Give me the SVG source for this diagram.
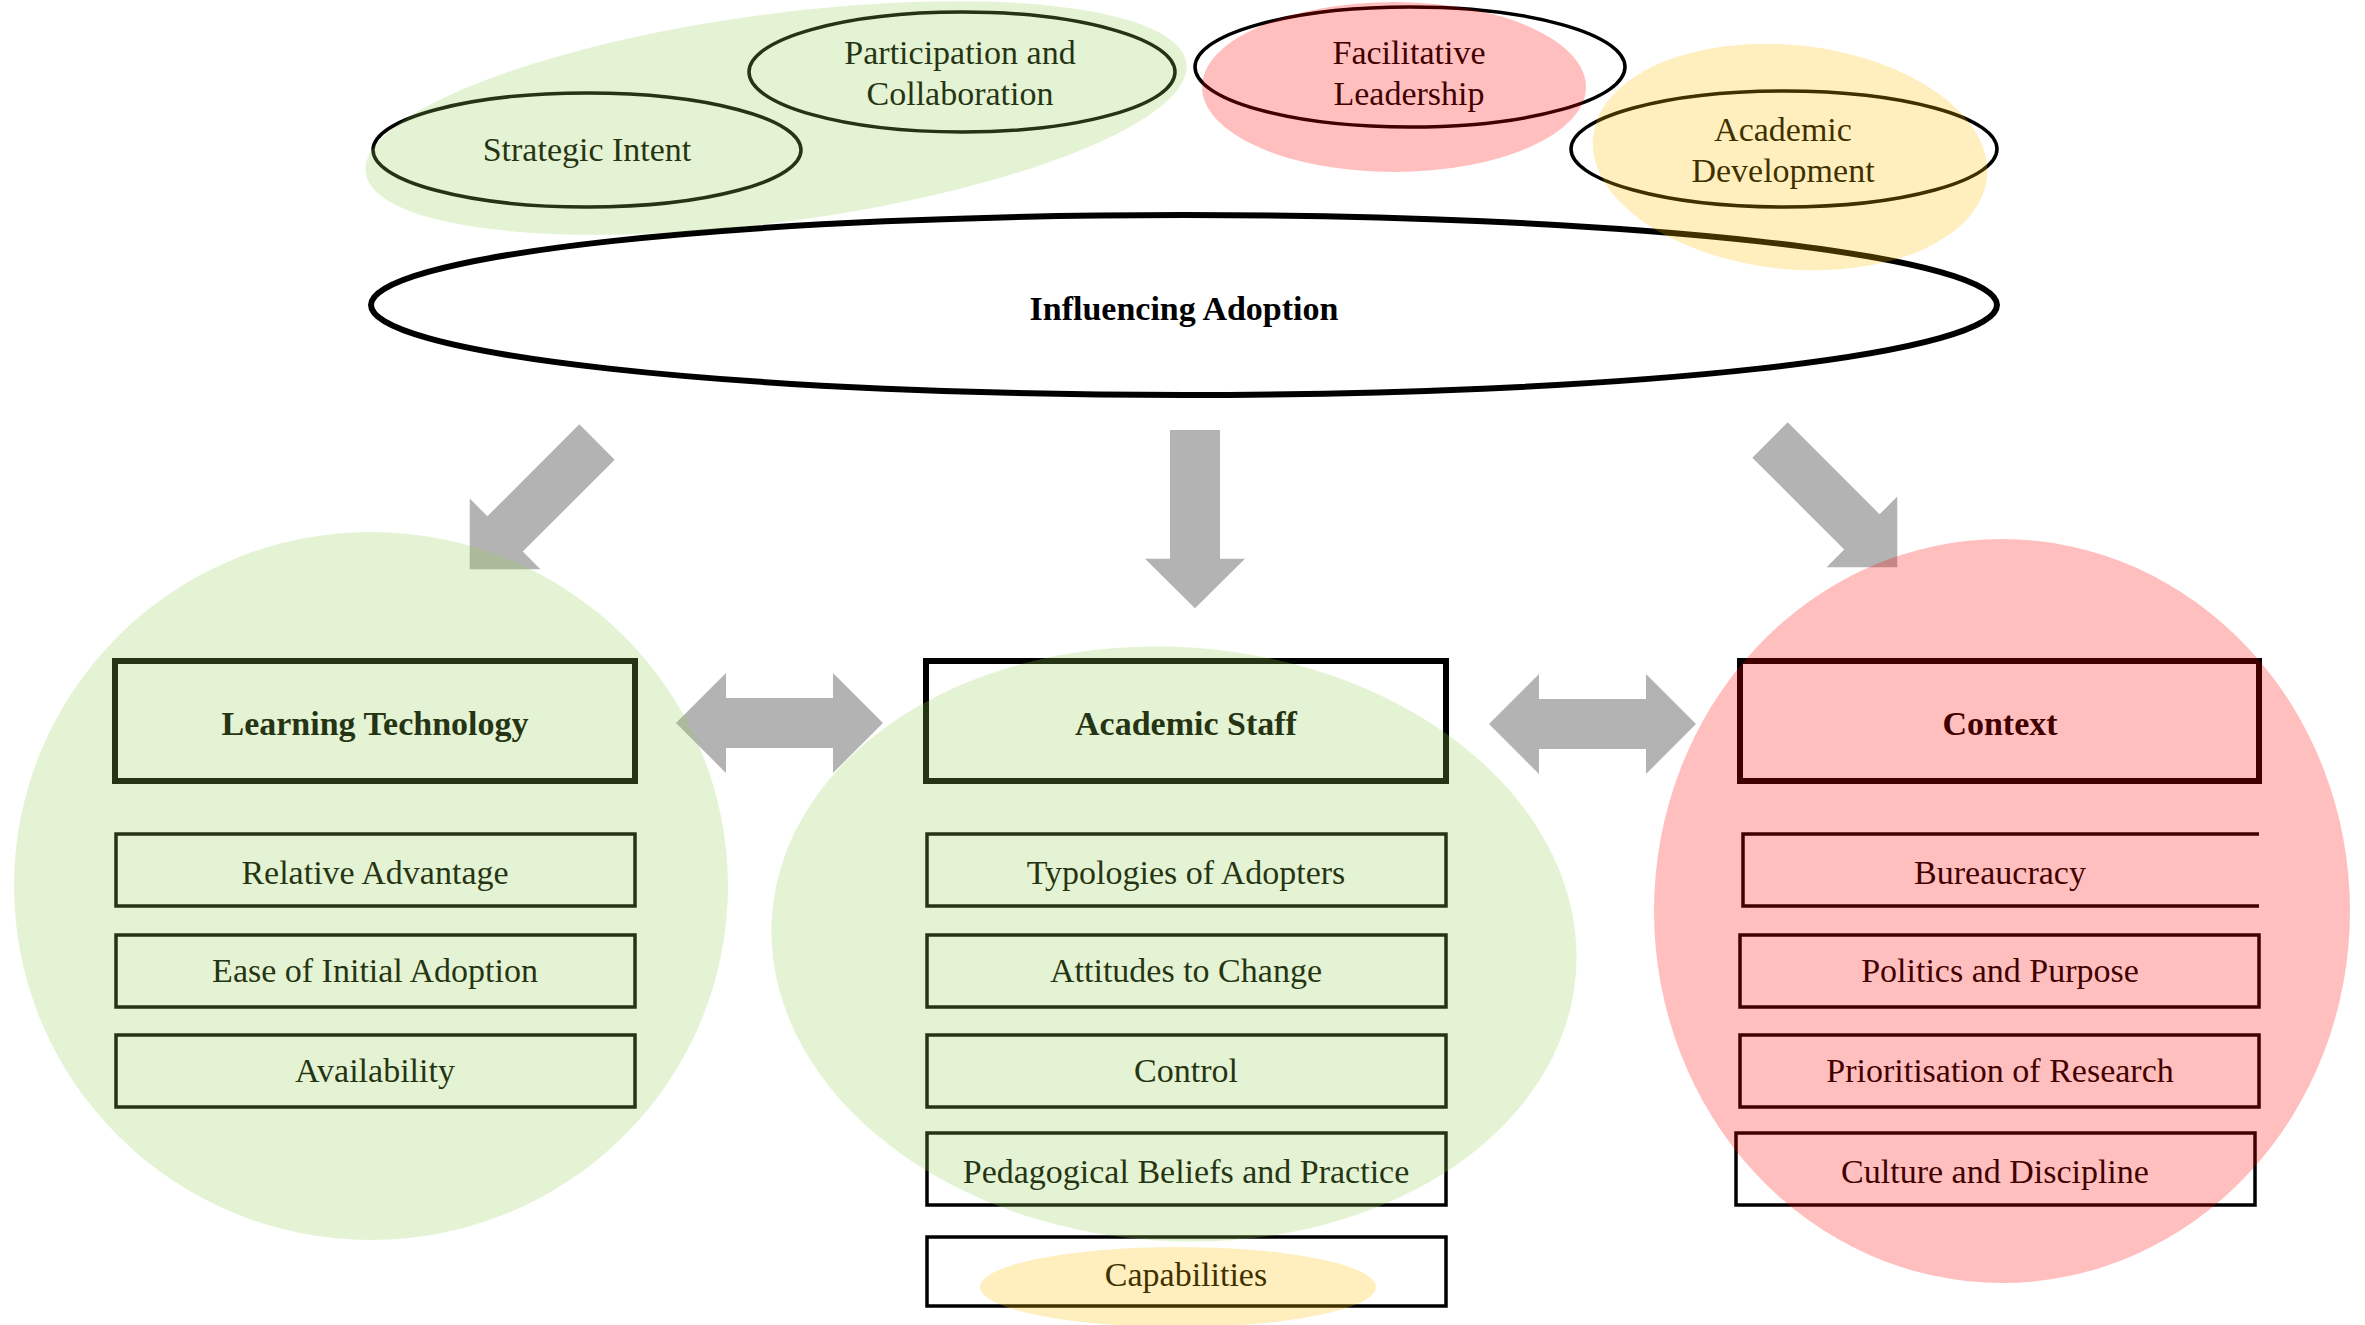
<svg xmlns="http://www.w3.org/2000/svg" width="2365" height="1325" viewBox="0 0 2365 1325">
<style>
text{font-family:"Liberation Serif","Times New Roman",serif;font-size:34px;text-anchor:middle;fill:#000}
.b{font-weight:bold}
.hdr{fill:none;stroke:#000;stroke-width:6}
.item{fill:none;stroke:#000;stroke-width:3.5}
.oval{fill:none;stroke:#000;stroke-width:3.5}
.arr{fill:#b3b3b3}
.g{fill:#92d050;fill-opacity:0.25}
.r{fill:#ff0000;fill-opacity:0.25}
.y{fill:#ffc000;fill-opacity:0.25}
</style>
<defs>
<path id="arrow1" d="M0,-25 H130 V-50 L180,0 L130,50 V25 H0 Z"/>
<path id="arrow2" d="M0,0 L50,-50 V-25 H157 V-50 L207,0 L157,50 V25 H50 V50 Z"/>
</defs>
<rect width="2365" height="1325" fill="#fff"/>

<g id="influencing-adoption">
<ellipse cx="1184" cy="305" rx="813" ry="90" fill="#fff" stroke="#000" stroke-width="6"/>
<text class="b" x="1184" y="320">Influencing Adoption</text>
</g>
<g id="strategic-intent">
<ellipse class="oval" cx="587" cy="150" rx="214" ry="57"/>
<text x="587" y="161">Strategic Intent</text>
</g>
<g id="participation">
<ellipse class="oval" cx="962" cy="72" rx="213" ry="60"/>
<text x="960" y="64">Participation and</text>
<text x="960" y="105">Collaboration</text>
</g>
<g id="facilitative-leadership">
<ellipse class="oval" cx="1410" cy="67" rx="215" ry="60"/>
<text x="1409" y="64">Facilitative</text>
<text x="1409" y="105">Leadership</text>
</g>
<g id="academic-development">
<ellipse class="oval" cx="1784" cy="149" rx="213" ry="58"/>
<text x="1783" y="141">Academic</text>
<text x="1783" y="182">Development</text>
</g>

<g id="connectors">
<use href="#arrow1" class="arr" transform="translate(597,442) rotate(135)"/>
<use href="#arrow1" class="arr" transform="translate(1195,430) rotate(90) scale(0.99,1)"/>
<use href="#arrow1" class="arr" transform="translate(1770,440) rotate(45)"/>
<use href="#arrow2" class="arr" transform="translate(676,723)"/>
<use href="#arrow2" class="arr" transform="translate(1489,724)"/>
</g>

<g id="learning-technology">
<rect class="hdr" x="115" y="661" width="520" height="120"/>
<text class="b" x="375" y="735">Learning Technology</text>
<rect class="item" x="116" y="834" width="519" height="72"/>
<text x="375" y="884">Relative Advantage</text>
<rect class="item" x="116" y="935" width="519" height="72"/>
<text x="375" y="982">Ease of Initial Adoption</text>
<rect class="item" x="116" y="1035" width="519" height="72"/>
<text x="375" y="1082">Availability</text>
</g>

<g id="academic-staff">
<rect class="hdr" x="926" y="661" width="520" height="120"/>
<text class="b" x="1186" y="735">Academic Staff</text>
<rect class="item" x="927" y="834" width="519" height="72"/>
<text x="1186" y="884">Typologies of Adopters</text>
<rect class="item" x="927" y="935" width="519" height="72"/>
<text x="1186" y="982">Attitudes to Change</text>
<rect class="item" x="927" y="1035" width="519" height="72"/>
<text x="1186" y="1082">Control</text>
<rect class="item" x="927" y="1133" width="519" height="72"/>
<text x="1186" y="1183">Pedagogical Beliefs and Practice</text>
<rect class="item" x="927" y="1237" width="519" height="69"/>
<text x="1186" y="1286">Capabilities</text>
</g>

<g id="context">
<rect class="hdr" x="1740" y="661" width="519" height="120"/>
<text class="b" x="2000" y="735">Context</text>
<path class="item" d="M2259,834 H1743 V906 H2259"/>
<text x="2000" y="884">Bureaucracy</text>
<rect class="item" x="1740" y="935" width="519" height="72"/>
<text x="2000" y="982">Politics and Purpose</text>
<rect class="item" x="1740" y="1035" width="519" height="72"/>
<text x="2000" y="1082">Prioritisation of Research</text>
<rect class="item" x="1736" y="1133" width="519" height="72"/>
<text x="1995" y="1183">Culture and Discipline</text>
</g>

<g id="overlays">
<ellipse class="g" cx="776" cy="118" rx="414" ry="104" transform="rotate(-7.6 776 118)"/>
<ellipse class="r" cx="1394" cy="87" rx="192" ry="85"/>
<ellipse class="y" cx="1790" cy="157" rx="198" ry="112" transform="rotate(6 1790 157)"/>
<ellipse class="g" cx="371" cy="886" rx="357" ry="354"/>
<ellipse class="g" cx="1174" cy="944" rx="403" ry="297" transform="rotate(4 1174 944)"/>
<ellipse class="r" cx="2002" cy="911" rx="348" ry="372"/>
<ellipse class="y" cx="1178" cy="1287" rx="198" ry="40"/>
</g>
</svg>
